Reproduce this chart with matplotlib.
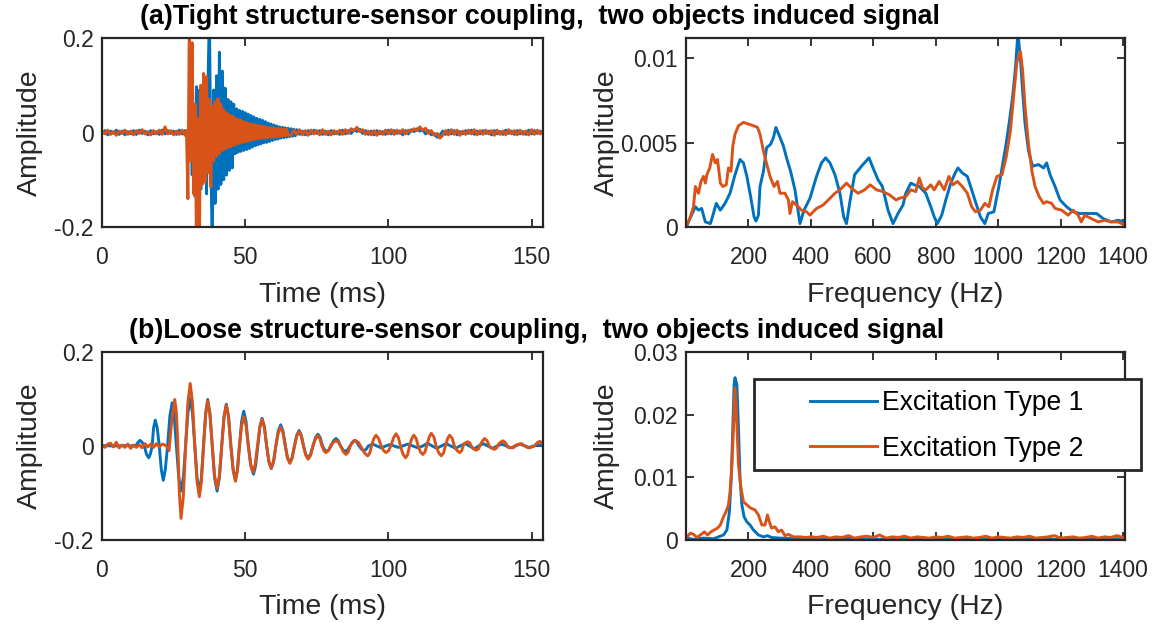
import numpy as np
import matplotlib
matplotlib.use("Agg")
import matplotlib.pyplot as plt
from matplotlib.patches import Rectangle
from matplotlib.lines import Line2D

plt.rcParams['font.family'] = ['Liberation Sans', 'DejaVu Sans']
plt.rcParams['axes.unicode_minus'] = False

BLUE = '#0072BD'
ORANGE = '#D95319'

# ---------------- (a) tight coupling, time signal ----------------
# Excitation type 1 (blue): quiet part (1 ms samples from 0 ms)
tight1_pre = [-0.003, 0.004, -0.005, 0.003, -0.002, 0.005, -0.004, 0.003, -0.005, 0.002,
              -0.003, 0.004, -0.004, 0.005, -0.002, 0.003, -0.005, 0.004, -0.003, 0.002,
              -0.004, 0.005, -0.003, 0.004, -0.002, 0.003, -0.004, 0.005, -0.003, 0.004]
# burst (0.5 ms samples from 30 ms)
tight1_burst = [0.003, -0.01, 0.02, -0.09, 0.04, -0.135, 0.097, -0.06, 0.09, -0.12,
                0.07, -0.10, 0.08, -0.13, 0.10, 0.25, -0.05, -0.25, 0.09, -0.15,
                0.12, -0.12, 0.17, -0.11, 0.13, -0.10, 0.094, -0.09, 0.07, -0.08,
                0.065, -0.075, 0.06, -0.045, 0.05, -0.042, 0.047, -0.04, 0.045, -0.038,
                0.042, -0.036, 0.039, -0.034, 0.036, -0.031, 0.033, -0.028, 0.03, -0.026,
                0.028, -0.024, 0.026, -0.022, 0.023, -0.021, 0.02, -0.019, 0.018, -0.017,
                0.016, -0.015, 0.014, -0.014, 0.012, -0.012, 0.011, -0.011, 0.01, -0.01,
                0.009, -0.009, 0.008, -0.008, 0.007, -0.007, 0.006]
# quiet tail (1 ms samples from 69 ms)
tight1_post = [-0.004, 0.003, -0.005, 0.004, -0.003, 0.005, -0.002, 0.004, -0.004, 0.003,
               -0.005, 0.004, -0.003, 0.002, -0.004, 0.005, -0.003, 0.004, -0.002, 0.006,
               0.002, 0.007, -0.002, 0.004, -0.004, 0.003, -0.005, 0.004, -0.003, 0.002,
               -0.004, 0.005, -0.003, 0.004, -0.002, 0.003, -0.005, 0.004, -0.003, 0.006,
               0.002, 0.008, 0.003, 0.006, -0.003, 0.004, -0.005, -0.002, -0.01, -0.005,
               0.003, -0.004, 0.005, -0.003, 0.004, -0.005, 0.002, -0.003, 0.004, -0.002,
               0.005, -0.004, 0.003, -0.003, 0.004, -0.002, 0.003, -0.005, 0.004, -0.003,
               0.002, -0.004, 0.005, -0.002, 0.003, -0.004, 0.004, -0.003, 0.002, -0.004,
               0.005, -0.003, 0.004, -0.002, 0.003, -0.003]

# Excitation type 2 (orange)
tight2_pre = [0.004, -0.003, 0.005, -0.004, 0.002, -0.006, 0.003, -0.002, 0.005, -0.004,
              0.003, -0.005, 0.004, -0.002, 0.006, -0.003, 0.002, -0.005, 0.004, -0.003,
              0.005, -0.004, 0.012, -0.003, 0.004, -0.005, 0.003, -0.004, 0.005, -0.006]
# burst (0.5 ms samples from 29.5 ms)
tight2_burst = [0.004, -0.14, 0.24, -0.06, 0.19, -0.13, 0.06, -0.25, 0.03, -0.25,
                0.10, -0.11, 0.125, -0.105, 0.118, -0.085, 0.07, -0.115, 0.055, -0.06,
                0.065, -0.05, 0.072, -0.045, 0.06, -0.038, 0.048, -0.035, 0.042, -0.032,
                0.038, -0.03, 0.035, -0.027, 0.031, -0.025, 0.028, -0.023, 0.026, -0.021,
                0.023, -0.02, 0.021, -0.018, 0.019, -0.017, 0.018, -0.015, 0.016, -0.014,
                0.015, -0.013, 0.014, -0.012, 0.013, -0.012, 0.012, -0.011, 0.011, -0.01,
                0.01, -0.01, 0.009, -0.009, 0.009, -0.008, 0.008, -0.008, 0.007, -0.007,
                0.007, -0.006]
# quiet tail (1 ms samples from 66 ms)
tight2_post = [-0.006, 0.005, -0.004, 0.006, -0.005, 0.004, -0.006, 0.005, -0.003, 0.004,
               -0.005, 0.006, -0.004, 0.003, -0.005, 0.004, -0.003, 0.005, -0.004, 0.006,
               -0.002, 0.008, 0.004, 0.011, 0.002, 0.006, -0.004, 0.003, -0.005, 0.004,
               -0.006, 0.003, -0.004, 0.005, -0.003, 0.006, -0.004, 0.005, -0.002, 0.006,
               -0.003, 0.005, 0.002, 0.008, 0.004, 0.012, 0.005, 0.009, -0.002, 0.004,
               -0.006, -0.002, -0.012, -0.006, 0.004, -0.005, 0.006, -0.004, 0.005, -0.006,
               0.003, -0.004, 0.005, -0.003, 0.006, -0.005, 0.004, -0.004, 0.005, -0.003,
               0.004, -0.006, 0.005, -0.004, 0.003, -0.005, 0.006, -0.003, 0.004, -0.005,
               0.005, -0.004, 0.003, -0.005, 0.006, -0.004, 0.005, -0.003, 0.004]

# ---------------- (a) tight coupling, spectrum ----------------
tight1_f = [3, 30, 40, 50, 62, 78, 83, 97, 110, 125, 141, 157, 173, 184, 195, 207, 218, 224,
            232, 237, 248, 258, 271, 280, 288, 299, 312, 322, 335, 349, 365, 378, 397, 418,
            434, 447, 461, 477, 493, 505, 514, 524, 540, 562, 586, 599, 615, 629, 647, 663,
            679, 695, 704, 720, 731, 747, 768, 784, 795, 805, 819, 832, 848, 862, 871, 885,
            901, 915, 927, 943, 957, 968, 986, 1002, 1014, 1025, 1036, 1046, 1055, 1063,
            1071, 1078, 1086, 1097, 1110, 1129, 1145, 1155, 1166, 1182, 1198, 1219, 1240,
            1261, 1288, 1315, 1336, 1362, 1384, 1406]
tight1_a = [0.0001, 0.0012, 0.001, 0.0011, 0.0003, 0.0002, 0.0005, 0.0014, 0.001, 0.0014,
            0.002, 0.0031, 0.004, 0.0038, 0.003, 0.0018, 0.0006, 0.00035, 0.0007, 0.0024,
            0.0033, 0.0047, 0.0049, 0.0053, 0.0059, 0.0054, 0.0048, 0.0041, 0.0033, 0.0022,
            0.0002, 0.001, 0.0017, 0.003, 0.0038, 0.0041, 0.0038, 0.0031, 0.002, 0.0006,
            0.0002, 0.0014, 0.0031, 0.0036, 0.0041, 0.0035, 0.0028, 0.0024, 0.001, 0.0002,
            0.0008, 0.0013, 0.002, 0.0026, 0.0025, 0.0024, 0.002, 0.0012, 0.0006, 0.0002,
            0.0007, 0.0016, 0.0026, 0.0032, 0.0035, 0.0032, 0.003, 0.0022, 0.0015, 0.0006,
            0.0002, 0.0008, 0.0009, 0.0024, 0.0037, 0.0049, 0.0063, 0.0077, 0.0094, 0.0115,
            0.010, 0.0081, 0.0061, 0.0045, 0.0036, 0.0037, 0.0035, 0.0038, 0.0031, 0.0024,
            0.0016, 0.0012, 0.0009, 0.0008, 0.0008, 0.0008, 0.0005, 0.0003, 0.0004, 0.0003]

tight2_f = [3, 14, 24, 30, 40, 48, 56, 62, 67, 76, 85, 94, 101, 110, 118, 129, 136, 144, 150,
            157, 168, 184, 200, 216, 229, 237, 248, 259, 269, 282, 293, 301, 317, 328, 333,
            341, 354, 370, 386, 397, 418, 439, 461, 477, 493, 514, 530, 551, 572, 590, 610,
            631, 652, 673, 683, 704, 720, 736, 747, 758, 768, 784, 795, 811, 827, 842, 855,
            869, 885, 901, 915, 927, 943, 957, 970, 982, 996, 1012, 1025, 1039, 1049, 1060,
            1071, 1078, 1086, 1097, 1108, 1118, 1131, 1145, 1155, 1171, 1182, 1203, 1224,
            1240, 1256, 1266, 1277, 1298, 1320, 1341, 1362, 1384, 1406]
tight2_a = [0.0001, 0.0006, 0.0012, 0.0024, 0.002, 0.0027, 0.003, 0.0026, 0.0031, 0.0035,
            0.0043, 0.0038, 0.004, 0.0026, 0.0024, 0.0025, 0.0035, 0.0033, 0.0048,
            0.0055, 0.006, 0.0062, 0.0061, 0.006, 0.0059, 0.0055, 0.0045, 0.0037, 0.003,
            0.0024, 0.0027, 0.002, 0.002, 0.0016, 0.0008, 0.0015, 0.0013, 0.001, 0.0009,
            0.0007, 0.0011, 0.0013, 0.0017, 0.002, 0.0022, 0.0026, 0.0023, 0.002, 0.0022,
            0.0025, 0.0022, 0.0021, 0.0019, 0.0016, 0.0017, 0.0018, 0.0022, 0.0021, 0.0029,
            0.0023, 0.0022, 0.0025, 0.0022, 0.0027, 0.0022, 0.003, 0.0025, 0.0027, 0.0024,
            0.002, 0.0012, 0.0009, 0.001, 0.0014, 0.0012, 0.0022, 0.003, 0.0031, 0.0041,
            0.0057, 0.0077, 0.0098, 0.0104, 0.0093, 0.0071, 0.0049, 0.0033, 0.0024, 0.0018,
            0.0014, 0.0015, 0.0014, 0.0011, 0.001, 0.0007, 0.001, 0.0007, 0.0003, 0.0007,
            0.0005, 0.0003, 0.0004, 0.0003, 0.0003, 0.0001]

# ---------------- (b) loose coupling, time signal ----------------
loose1_t = [0, 4, 8, 11, 12.0, 12.6, 13.3, 14.0, 14.8, 15.5, 16.3, 16.9, 17.5, 18.0, 18.6,
            19.3, 20.0, 20.7, 21.4, 22.1, 22.9, 23.7, 24.5, 25.2, 26.0, 26.8, 27.6, 28.4,
            29.2, 30.0, 30.8, 31.6, 32.4, 33.2, 34.0, 34.7, 35.45, 36.2, 36.9, 37.7, 38.5,
            39.3, 40.2, 41.0, 41.8, 42.6, 43.4, 44.2, 45.0, 45.8, 46.6, 47.3, 48.0, 48.75,
            49.5, 50.3, 51.1, 52.0, 52.9, 53.65, 54.4, 55.15, 55.9, 56.7, 57.5, 58.3, 59.1,
            59.9, 60.7, 61.55, 62.4, 63.2, 64.0, 64.75, 65.5, 66.35, 67.2, 68.0, 68.8, 69.6,
            70.4, 71.15, 71.9, 72.8, 73.7, 74.55, 75.4, 76.2, 77.0, 77.75, 78.5, 79.25, 80.0,
            80.85, 81.7, 82.5, 83.3, 84.15, 85.0, 85.8, 86.6, 87.4, 88.2, 89.0, 89.8, 90.65,
            91.5, 92.25, 93.0, 94.5, 96.0, 97.5, 99.0, 100.5, 102.0, 103.5, 105.0, 106.8,
            108.5, 110.3, 112.0, 113.7, 115.3, 116.9, 118.5, 120.2, 121.8, 123.5, 125.0,
            126.8, 128.3, 130.0, 131.5, 133.2, 134.7, 136.4, 138.0, 139.6, 141.2, 142.8,
            144.4, 146.0, 147.6, 149.2, 150.8, 152.4, 154.0]
loose1_v = [0.001, 0.0, 0.001, 0.0, 0.002, 0.008, 0.012, 0.008, 0.0, -0.017, -0.025, -0.017,
            0.0, 0.038, 0.055, 0.038, 0.0, -0.05, -0.073, -0.05, 0.0, 0.064, 0.092, 0.064,
            0.0, -0.067, -0.096, -0.067, 0.0, 0.07, 0.101, 0.07, 0.0, -0.068, -0.098, -0.068,
            0.0, 0.069, 0.099, 0.069, 0.0, -0.067, -0.096, -0.067, 0.0, 0.062, 0.089, 0.062,
            0.0, -0.05, -0.072, -0.05, 0.0, 0.052, 0.074, 0.052, 0.0, -0.042, -0.06, -0.042,
            0.0, 0.041, 0.059, 0.041, 0.0, -0.034, -0.048, -0.034, 0.0, 0.032, 0.045, 0.032,
            0.0, -0.025, -0.035, -0.025, 0.0, 0.023, 0.033, 0.023, 0.0, -0.018, -0.025,
            -0.018, 0.0, 0.018, 0.025, 0.018, 0.0, -0.008, -0.012, -0.008, 0.0, 0.011, 0.016,
            0.011, 0.0, -0.008, -0.012, -0.008, 0.0, 0.008, 0.012, 0.008, 0.0, -0.007, -0.01,
            -0.007, 0.0, 0.004, 0.0, -0.004, 0.0, 0.003, 0.0, -0.003, 0.0, 0.004, 0.0, -0.004,
            0.0, 0.006, 0.0, -0.005, 0.0, 0.005, 0.0, -0.005, 0.0, 0.005, 0.0, -0.006, 0.0,
            0.005, 0.0, -0.005, 0.0, 0.004, 0.0, -0.004, 0.0, 0.004, 0.0, -0.003, 0.0, 0.003,
            0.0]

loose2_t = [0, 1, 2, 3, 4, 5, 6, 7, 8, 9, 10, 11, 12, 13, 14, 15, 16, 17, 18, 19, 20, 21,
            22, 23.0, 23.4, 24.3, 25.4, 26.0, 26.5, 27.0, 27.6, 28.4, 29.2, 30.0, 30.8, 31.6,
            32.4, 33.2, 34.0, 34.7, 35.45, 36.2, 36.9, 37.7, 38.5, 39.3, 40.2, 41.0, 41.8,
            42.6, 43.4, 44.2, 45.0, 45.8, 46.6, 47.3, 48.0, 48.75, 49.5, 50.3, 51.1, 51.9,
            52.7, 53.5, 54.3, 55.1, 55.9, 56.7, 57.5, 58.3, 59.1, 59.9, 60.7, 61.55, 62.4,
            63.2, 64.0, 64.8, 65.6, 66.4, 67.2, 68.0, 68.8, 69.6, 70.4, 71.2, 72.0, 72.85,
            73.7, 74.55, 75.4, 76.1, 76.8, 77.5, 78.2, 79.1, 80.0, 80.85, 81.7, 82.6, 83.5,
            84.35, 85.2, 86.0, 86.8, 87.6, 88.4, 89.5, 90.6, 91.7, 92.8, 93.5, 94.2, 94.95,
            95.7, 96.6, 97.5, 98.35, 99.2, 100.1, 101.0, 101.85, 102.7, 103.5, 104.3, 105.15,
            106.0, 106.75, 107.5, 108.2, 108.9, 109.7, 110.5, 111.25, 112.0, 112.75, 113.5,
            114.25, 115.0, 115.9, 116.8, 117.65, 118.5, 119.25, 120.0, 120.7, 121.4, 122.3,
            123.2, 124.05, 124.9, 125.6, 126.3, 127.0, 127.8, 128.5, 129.2, 130.0, 130.7,
            131.5, 132.2, 132.9, 133.6, 134.5, 135.4, 136.25, 137.1, 137.8, 138.5, 139.2,
            140.0, 140.9, 141.8, 142.7, 143.6, 144.3, 145.0, 145.8, 146.5, 147.2, 147.8,
            148.5, 149.2, 150.1, 151.0, 152.0, 152.9, 154.0]
loose2_v = [0.002, -0.003, 0.004, 0.006, -0.002, 0.008, -0.004, 0.002, -0.003, 0.004,
            -0.005, 0.002, -0.003, 0.003, -0.004, 0.005, -0.002, 0.004, -0.003, 0.005,
            -0.002, 0.004, 0.002, -0.003, -0.01, 0.05, 0.099, 0.07, 0.0, -0.1, -0.154,
            -0.108, 0.0, 0.093, 0.133, 0.093, 0.0, -0.076, -0.108, -0.076, 0.0, 0.067, 0.096,
            0.067, 0.0, -0.063, -0.09, -0.063, 0.0, 0.061, 0.087, 0.061, 0.0, -0.052, -0.075,
            -0.052, 0.0, 0.043, 0.062, 0.043, 0.0, -0.039, -0.056, -0.039, 0.0, 0.04, 0.057,
            0.04, 0.0, -0.033, -0.047, -0.033, 0.0, 0.028, 0.04, 0.028, 0.002, -0.026,
            -0.037, -0.026, 0.0, 0.021, 0.03, 0.021, -0.002, -0.02, -0.028, -0.02, 0.002,
            0.015, 0.022, 0.015, 0.0, -0.01, -0.014, -0.01, 0.003, 0.008, 0.011, 0.008,
            -0.002, -0.013, -0.018, -0.013, 0.002, 0.008, 0.012, 0.008, -0.003, -0.015,
            -0.021, -0.015, 0.002, 0.016, 0.023, 0.016, 0.0, -0.01, -0.014, -0.01, 0.003,
            0.018, 0.026, 0.018, -0.002, -0.018, -0.025, -0.018, 0.003, 0.016, 0.023, 0.016,
            -0.002, -0.013, -0.018, -0.013, 0.003, 0.019, 0.027, 0.019, -0.003, -0.015,
            -0.021, -0.015, 0.002, 0.016, 0.023, 0.016, -0.003, -0.01, -0.014, -0.01, 0.004,
            0.007, 0.009, 0.006, -0.003, -0.007, -0.009, -0.006, 0.004, 0.011, 0.016, 0.011,
            -0.002, -0.005, -0.007, -0.004, 0.004, 0.008, 0.011, 0.007, -0.003, -0.003,
            -0.004, 0.001, 0.003, 0.004, 0.005, 0.002, 0.0, -0.003, -0.004, -0.002, 0.0,
            0.007, 0.01, 0.004]

# ---------------- (b) loose coupling, spectrum ----------------
loose1_f = [3, 24, 56, 88, 104, 120, 131, 139, 145, 150, 154, 157, 163, 168, 173, 179, 186,
            195, 205, 216, 232, 248, 261, 274, 301, 354, 400]
loose1_a = [0.0003, 0.0001, 0.0003, 0.0002, 0.0005, 0.0008, 0.0016, 0.0045, 0.0099, 0.0179,
            0.0248, 0.0259, 0.0248, 0.0179, 0.0099, 0.0056, 0.0037, 0.0029, 0.0024, 0.0016,
            0.0008, 0.0005, 0.0007, 0.0004, 0.0003, 0.0002, 0.0002]
loose2_f = [3, 14, 24, 35, 46, 59, 69, 80, 90, 101, 110, 120, 128, 136, 141, 147, 152, 157,
            163, 168, 176, 184, 195, 207, 221, 232, 243, 253, 261, 267, 274, 285, 296, 306,
            317, 328, 344, 365, 386, 400]
loose2_a = [0.0005, 0.0011, 0.0009, 0.0004, 0.0008, 0.0013, 0.0008, 0.0013, 0.0016, 0.0019,
            0.0024, 0.0037, 0.0045, 0.0056, 0.0077, 0.012, 0.0179, 0.0243, 0.0184, 0.012,
            0.0083, 0.0061, 0.0056, 0.0051, 0.0048, 0.004, 0.0024, 0.0024, 0.004, 0.0029,
            0.0019, 0.0021, 0.0013, 0.0016, 0.0007, 0.0009, 0.0005, 0.0005, 0.0004, 0.0005]
# tails above 400 Hz (20 Hz samples from 420 Hz)
loose1_tail = [0.0002, 0.0001, 0.0002, 0.0001, 0.0002, 0.0003, 0.0001, 0.0002, 0.0001, 0.0002,
               0.0001, 0.0002, 0.0003, 0.0001, 0.0002, 0.0001, 0.0002, 0.0001, 0.0002, 0.0003,
               0.0001, 0.0002, 0.0001, 0.0002, 0.0001, 0.0002, 0.0003, 0.0001, 0.0002, 0.0001,
               0.0002, 0.0001, 0.0002, 0.0003, 0.0001, 0.0002, 0.0001, 0.0002, 0.0001, 0.0002,
               0.0003, 0.0001, 0.0002, 0.0001, 0.0002, 0.0001, 0.0002, 0.0001, 0.0002, 0.0001]
loose2_tail = [0.0004, 0.0006, 0.0003, 0.0005, 0.0004, 0.0007, 0.0003, 0.0005, 0.0006, 0.0004,
               0.0008, 0.0003, 0.0005, 0.0004, 0.0006, 0.0003, 0.0005, 0.0004, 0.0003, 0.0005,
               0.0004, 0.0006, 0.0003, 0.0004, 0.0005, 0.0003, 0.0004, 0.0006, 0.0003, 0.0005,
               0.0004, 0.0003, 0.0005, 0.0004, 0.0006, 0.0003, 0.0004, 0.0005, 0.0007, 0.0003,
               0.0004, 0.0005, 0.0003, 0.0004, 0.0006, 0.0003, 0.0005, 0.0004, 0.0007, 0.0004]

title_a = "(a)Tight structure-sensor coupling,  two objects induced signal"
title_b = "(b)Loose structure-sensor coupling,  two objects induced signal"
legend_labels = ["Excitation Type 1", "Excitation Type 2"]
time_ticks = [0, 50, 100, 150]
freq_ticks = [200, 400, 600, 800, 1000, 1200, 1400]

# ---------------- assemble sample times ----------------
def seg_times(start, step, n):
    return start + step * np.arange(n)

t1 = np.concatenate([seg_times(0, 1, len(tight1_pre)), seg_times(30.0, 0.5, len(tight1_burst)),
                     seg_times(69, 1, len(tight1_post))])
y1 = np.array(tight1_pre + tight1_burst + tight1_post)
t2 = np.concatenate([seg_times(0, 1, len(tight2_pre)), seg_times(29.5, 0.5, len(tight2_burst)),
                     seg_times(66, 1, len(tight2_post))])
y2 = np.array(tight2_pre + tight2_burst + tight2_post)

lf1 = np.concatenate([loose1_f, seg_times(420, 20, len(loose1_tail))])
la1 = np.concatenate([loose1_a, loose1_tail])
lf2 = np.concatenate([loose2_f, seg_times(420, 20, len(loose2_tail))])
la2 = np.concatenate([loose2_a, loose2_tail])

n1 = min(len(loose1_t), len(loose1_v))
n2 = min(len(loose2_t), len(loose2_v))

# ---------------- figure ----------------
W, H = 1158, 626
fig = plt.figure(figsize=(W / 100, H / 100), dpi=100)

def px_axes(x0, y0, x1, y1):
    return fig.add_axes([x0 / W, 1 - y1 / H, (x1 - x0) / W, (y1 - y0) / H])

ax1 = px_axes(102, 38, 543, 227)
ax2 = px_axes(686, 38, 1125, 227)
ax3 = px_axes(102, 352, 543, 540)
ax4 = px_axes(686, 352, 1125, 540)

LW = 2.1
TICK_FS = 16.5
LAB_FS = 20.5

ax1.plot(t1, y1, color=BLUE, lw=LW)
ax1.plot(t2, y2, color=ORANGE, lw=LW)
ax2.plot(tight1_f, tight1_a, color=BLUE, lw=LW)
ax2.plot(tight2_f, tight2_a, color=ORANGE, lw=LW)
ax3.plot(loose1_t[:n1], loose1_v[:n1], color=BLUE, lw=LW)
ax3.plot(loose2_t[:n2], loose2_v[:n2], color=ORANGE, lw=LW)
ax4.plot(lf1, la1, color=BLUE, lw=LW)
ax4.plot(lf2, la2, color=ORANGE, lw=LW)

for ax in (ax1, ax3):
    ax.set_xlim(0, 154)
    ax.set_ylim(-0.2, 0.2)
    ax.set_xticks(time_ticks)
    ax.set_yticks([-0.2, 0, 0.2])
    ax.set_yticklabels(['-0.2', '0', '0.2'])
    ax.set_xlabel('Time (ms)')
for ax in (ax2, ax4):
    ax.set_xlim(0, 1406)
    ax.set_xticks(freq_ticks)
    ax.set_xlabel('Frequency (Hz)')
ax2.set_ylim(0, 0.0112)
ax2.set_yticks([0, 0.005, 0.01])
ax2.set_yticklabels(['0', '0.005', '0.01'])
ax4.set_ylim(0, 0.03)
ax4.set_yticks([0, 0.01, 0.02, 0.03])
ax4.set_yticklabels(['0', '0.01', '0.02', '0.03'])

for ax in (ax1, ax2, ax3, ax4):
    ax.set_ylabel('Amplitude')
    ax.tick_params(direction='in', top=True, right=True, length=6, width=1.3,
                   labelsize=TICK_FS, colors='#262626')
    ax.tick_params(axis='x', pad=14)
    ax.tick_params(axis='y', pad=6)
    for s in ax.spines.values():
        s.set_linewidth(1.6)
        s.set_color('#262626')
    ax.xaxis.label.set_fontsize(LAB_FS)
    ax.yaxis.label.set_fontsize(LAB_FS)
    ax.xaxis.label.set_color('#262626')
    ax.yaxis.label.set_color('#262626')
    ax.xaxis.label.set_verticalalignment('center')
    ax.yaxis.label.set_verticalalignment('center')

ax1.xaxis.set_label_coords(0.5, -68 / 189)
ax3.xaxis.set_label_coords(0.5, -67 / 188)
ax2.xaxis.set_label_coords(0.5, -68 / 189)
ax4.xaxis.set_label_coords(0.5, -67 / 188)
ax1.yaxis.set_label_coords((30 - 102) / 441, 0.5)
ax3.yaxis.set_label_coords((30 - 102) / 441, 0.5)
ax2.yaxis.set_label_coords((607 - 686) / 439, 0.5)
ax4.yaxis.set_label_coords((607 - 686) / 439, 0.5)

fig.text(540 / W, 1 - 17 / H, title_a, ha='center', va='center', fontsize=19.3,
         fontweight='bold', color='black')
fig.text(537 / W, 1 - 331 / H, title_b, ha='center', va='center', fontsize=19.3,
         fontweight='bold', color='black')

# legend box
rect = Rectangle((754 / W, 1 - 470 / H), (1141 - 754) / W, (470 - 379) / H,
                 transform=fig.transFigure, facecolor='white', edgecolor='#262626',
                 lw=2.0, zorder=4)
fig.add_artist(rect)
handles = [Line2D([], [], color=BLUE, lw=LW), Line2D([], [], color=ORANGE, lw=LW)]
leg = fig.legend(handles, legend_labels, loc='center left',
                 bbox_to_anchor=(810 / W, 1 - 426 / H), frameon=False, fontsize=19.1,
                 handlelength=2.53, handletextpad=0.2, labelspacing=0.73,
                 borderpad=0, borderaxespad=0)
leg.set_zorder(5)

fig.savefig('out.png', dpi=100)
